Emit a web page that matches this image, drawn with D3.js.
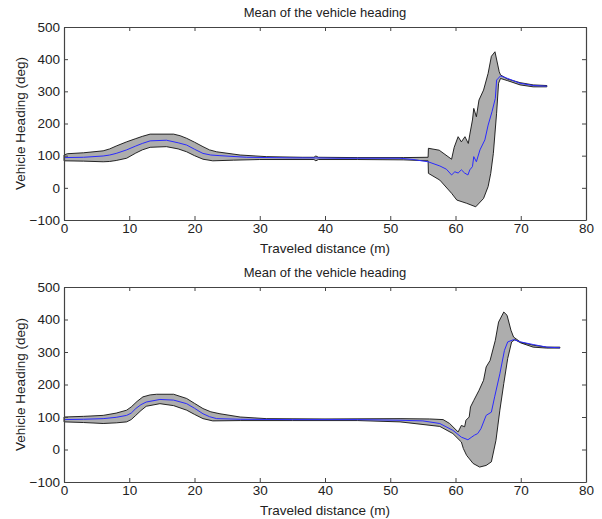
<!DOCTYPE html>
<html>
<head>
<meta charset="utf-8">
<script src="https://cdn.jsdelivr.net/npm/d3@7"></script>
<style>
  html, body { margin: 0; padding: 0; background: #fff; }
  text { font-family: "Liberation Sans", Arial, sans-serif; }
</style>
</head>
<body>
<svg id="chart" width="602" height="519"></svg>
<script>
// ---------- Data ----------
const xTicks = [0, 10, 20, 30, 40, 50, 60, 70, 80];
const yTicks = [-100, 0, 100, 200, 300, 400, 500];
const titleText = "Mean of the vehicle heading";
const xLabelText = "Traveled distance (m)";
const yLabelText = "Vehicle Heading (deg)";

// Top panel
const topUpperX = [0, 0.5, 3, 6, 7, 8, 9.6, 11, 12, 13.2, 16.8, 17.8, 18.8, 20, 21.3, 22.3, 23.4, 27, 31, 36.5, 38.3, 38.6, 39, 45, 52, 55.8, 55.85, 57.5, 59.4, 59.8, 60.4, 60.9, 61.45, 61.96, 62.2, 62.6, 62.8, 63.2, 63.6, 64.3, 65.0, 65.5, 66.05, 66.7, 66.9, 68, 69.9, 71.9, 74];
const topUpperV = [102, 106, 109, 115, 121, 130, 143, 153, 160, 167, 167, 162, 154, 142, 128, 118, 112, 102, 97, 95, 95, 99, 95, 94, 94, 95, 123, 117, 89, 126, 159, 143, 159, 138, 167, 211, 247, 221, 273, 304, 356, 409, 423, 361, 351, 338, 327, 320, 318];
const topMeanX = [0, 3, 6, 7, 8, 9.6, 11, 12, 13.2, 15.7, 17.5, 18.8, 20, 21.3, 22.5, 23.9, 28, 35, 38.5, 42, 51.5, 53.5, 55.8, 57.6, 58.6, 59.4, 59.9, 60.4, 60.9, 61.4, 61.9, 62.2, 62.6, 62.8, 63.2, 63.75, 64.5, 65.0, 65.6, 66.1, 66.3, 66.9, 68, 69.9, 71.9, 74];
const topMeanV = [94, 95, 99, 102, 107, 118, 130, 138, 146, 148, 140, 133, 120, 107, 102, 100, 95, 93, 93, 92, 92, 88, 81, 68, 58, 40, 50, 46, 56, 46, 40, 56, 66, 97, 81, 118, 149, 195, 237, 278, 335, 348, 340, 325, 318, 316];
const topLowerX = [0, 3, 6, 7, 8, 9.6, 11, 12, 13.2, 15.7, 17.5, 18.8, 20, 21.3, 22.8, 26, 30, 38.3, 38.6, 39, 45, 52, 55.8, 55.85, 57.6, 59.4, 60.2, 61.7, 63.1, 64.3, 65.0, 65.4, 65.8, 66.3, 66.6, 66.9, 68, 69.9, 71.9, 74];
const topLowerV = [84, 83, 81, 82, 85, 92, 108, 118, 126, 128, 121, 112, 100, 89, 84, 86, 88, 88, 84, 88, 88, 87, 84, 45, 24, -17, -38, -48, -59, -33, 4, 45, 107, 232, 325, 340, 333, 320, 314, 314];

// Bottom panel
const botUpperX = [0, 3, 6, 8, 9.6, 10.3, 11.2, 12.1, 13.2, 14.2, 16.8, 18.8, 20, 21.3, 22.5, 23.9, 27, 31, 40, 51.5, 56, 58.1, 59.1, 60.4, 60.9, 61.4, 61.6, 62.1, 62.3, 62.8, 63.6, 64.3, 64.7, 65.3, 66.1, 66.6, 67.4, 67.9, 68.5, 68.9, 70, 71.9, 74, 76];
const botUpperV = [100, 102, 105, 112, 121, 131, 148, 162, 168, 170, 170, 157, 142, 126, 116, 110, 100, 95, 94, 95, 94, 92, 80, 54, 74, 70, 90, 100, 131, 151, 182, 213, 254, 274, 336, 392, 423, 413, 367, 346, 330, 321, 315, 315];
const botMeanX = [0, 3, 6, 8, 9.6, 10.3, 11.0, 11.8, 12.6, 14.7, 16.8, 18.8, 20, 21.3, 22.3, 23.4, 27, 35, 45, 51.5, 55, 57.6, 59.6, 60.9, 61.9, 62.4, 62.9, 63.4, 63.9, 64.7, 65.5, 66.0, 66.8, 67.5, 68.0, 68.9, 70, 71.9, 74, 76];
const botMeanV = [92, 93, 95, 99, 105, 112, 126, 138, 146, 154, 152, 141, 127, 110, 101, 95, 93, 92, 92, 90, 88, 80, 59, 38, 30, 37, 44, 49, 64, 105, 115, 162, 233, 305, 331, 338, 331, 323, 315, 313];
const botLowerX = [0, 3, 6, 8, 9.6, 10.3, 11.0, 11.8, 12.6, 14.7, 16.8, 18.8, 20, 21.3, 22.8, 27, 35, 45, 51.5, 57.6, 59.6, 60.9, 61.2, 61.7, 62.7, 63.7, 64.7, 65.5, 66.2, 66.8, 67.4, 68.0, 68.6, 69.1, 70, 71.9, 74, 76];
const botLowerV = [85, 83, 80, 82, 85, 92, 105, 120, 133, 141, 135, 121, 108, 95, 88, 89, 89, 89, 85, 71, 49, 23, 3, -18, -43, -54, -49, -38, 28, 121, 203, 280, 331, 338, 328, 315, 312, 312];

// ---------- Drawing ----------
const svg = d3.select("#chart");
svg.append("rect").attr("width", 602).attr("height", 519).attr("fill", "#fff");

const zip = (xs, vs) => xs.map((x, i) => [x, vs[i]]);

function panel(cfg) {
  const x = d3.scaleLinear().domain([0, 80]).range([64, 586]);
  const y = d3.scaleLinear().domain([-100, 500]).range([cfg.bottom, cfg.top]);
  const g = svg.append("g");

  const line = d3.line().x(d => x(d[0])).y(d => y(d[1]));
  const upper = zip(cfg.upX, cfg.upV);
  const lower = zip(cfg.loX, cfg.loV).reverse();
  const poly = upper.concat(lower);
  g.append("path")
    .attr("d", line(poly) + "Z")
    .attr("fill", "#adadad")
    .attr("stroke", "#111")
    .attr("stroke-width", 0.9)
    .attr("stroke-linejoin", "round");

  g.append("path")
    .attr("d", line(zip(cfg.mX, cfg.mV)))
    .attr("fill", "none")
    .attr("stroke", "#2a2aff")
    .attr("stroke-width", 1);

  // axes (box with inward ticks)
  const axColor = "#444";
  const fmt = d3.format("d");
  const ax = g.append("g").attr("transform", `translate(0,${cfg.bottom})`)
    .call(d3.axisBottom(x).tickValues(xTicks).tickFormat(fmt).tickSizeInner(-4).tickSizeOuter(0).tickPadding(3));
  const ay = g.append("g").attr("transform", `translate(64,0)`)
    .call(d3.axisLeft(y).tickValues(yTicks).tickFormat(fmt).tickSizeInner(-4).tickSizeOuter(0).tickPadding(4));
  const at = g.append("g").attr("transform", `translate(0,${cfg.top})`)
    .call(d3.axisTop(x).tickValues(xTicks).tickFormat("").tickSizeInner(-4).tickSizeOuter(0));
  const ar = g.append("g").attr("transform", `translate(586,0)`)
    .call(d3.axisRight(y).tickValues(yTicks).tickFormat("").tickSizeInner(-4).tickSizeOuter(0));
  [ax, ay, at, ar].forEach(a => {
    a.selectAll("path.domain").attr("stroke", axColor).attr("stroke-width", 1.2);
    a.selectAll(".tick line").attr("stroke", axColor);
    a.selectAll("text").attr("fill", "#222").style("font-size", "13.5px")
      .style("font-family", '"Liberation Sans", Arial, sans-serif');
  });

  g.append("text").attr("x", 325).attr("y", cfg.top - 10)
    .attr("text-anchor", "middle").style("font-size", "13px").attr("fill", "#222")
    .text(titleText);
  g.append("text").attr("x", 325).attr("y", cfg.bottom + 33)
    .attr("text-anchor", "middle").style("font-size", "13.5px").attr("fill", "#222")
    .text(xLabelText);
  g.append("text")
    .attr("transform", `translate(25,${(cfg.top + cfg.bottom) / 2}) rotate(-90)`)
    .attr("text-anchor", "middle").style("font-size", "13.5px").attr("fill", "#222")
    .text(yLabelText);
}

panel({ top: 27, bottom: 220, upX: topUpperX, upV: topUpperV, loX: topLowerX, loV: topLowerV, mX: topMeanX, mV: topMeanV });
panel({ top: 287, bottom: 482, upX: botUpperX, upV: botUpperV, loX: botLowerX, loV: botLowerV, mX: botMeanX, mV: botMeanV });
</script>
</body>
</html>
